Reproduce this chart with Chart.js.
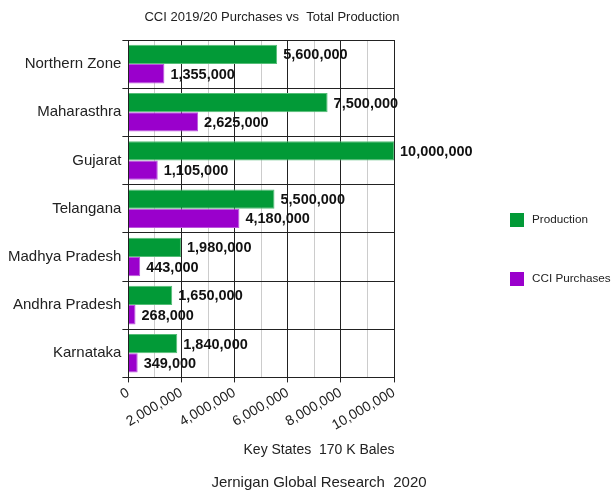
<!DOCTYPE html>
<html>
<head>
<meta charset="utf-8">
<script src="https://cdn.jsdelivr.net/npm/chart.js@4.4.1/dist/chart.umd.min.js"></script>
<style>
  html, body { margin: 0; padding: 0; background: #fff; }
  #wrap { width: 613px; height: 490px; position: relative; }
</style>
</head>
<body>
<div id="wrap"><canvas id="c"></canvas></div>
<script>
// Cotton: CCI purchases against total production by state (bales)
const states = ['Northern Zone', 'Maharasthra', 'Gujarat', 'Telangana', 'Madhya Pradesh', 'Andhra Pradesh', 'Karnataka'];
const production = [5600000, 7500000, 10000000, 5500000, 1980000, 1650000, 1840000];
const cciPurchases = [1355000, 2625000, 1105000, 4180000, 443000, 268000, 349000];
const seriesNames = ['Production', 'CCI Purchases'];
const axisMax = 10000000;
const axisStep = 1000000;
const labelStep = 2000000;
const chartTitle = 'CCI 2019/20 Purchases vs  Total Production';
const axisCaption = 'Key States  170 K Bales';
const sourceNote = 'Jernigan Global Research  2020';

const FONT = '"Liberation Sans", Arial, sans-serif';
const GREEN = '#029a37';
const PURPLE = '#9a00cc';
const INK = '#222';

// value printed just past the end of each bar
const valueLabels = {
  id: 'valueLabels',
  afterDatasetsDraw(chart) {
    const ctx = chart.ctx;
    ctx.save();
    ctx.font = 'bold 14.5px ' + FONT;
    ctx.fillStyle = '#111';
    ctx.textAlign = 'left';
    ctx.textBaseline = 'middle';
    chart.data.datasets.forEach((ds, i) => {
      chart.getDatasetMeta(i).data.forEach((bar, j) => {
        ctx.fillText(ds.data[j].toLocaleString('en-US'), bar.x + 6, bar.y + 1);
      });
    });
    ctx.restore();
  }
};

// title, axis caption, source line and the side legend
const captions = {
  id: 'captions',
  afterDraw(chart) {
    const ctx = chart.ctx;
    const area = chart.chartArea;
    ctx.save();
    ctx.fillStyle = INK;
    ctx.textAlign = 'center';
    ctx.textBaseline = 'middle';
    ctx.font = '13px ' + FONT;
    ctx.fillText(chartTitle, 272, 17);
    ctx.font = '14px ' + FONT;
    ctx.fillText(axisCaption, 319, 450);
    ctx.font = '15px ' + FONT;
    ctx.fillText(sourceNote, 319, 483);

    // legend
    const lx = area.right + 116;
    const rows = [220, 279];
    ctx.textAlign = 'left';
    ctx.font = '11.7px ' + FONT;
    chart.data.datasets.forEach((ds, i) => {
      const cy = rows[i];
      ctx.fillStyle = ds.backgroundColor;
      ctx.fillRect(lx, cy - 7, 14, 14);
      ctx.fillStyle = INK;
      ctx.fillText(ds.label, lx + 22, cy);
    });
    ctx.restore();
  }
};

new Chart(document.getElementById('c'), {
  type: 'bar',
  data: {
    labels: states,
    datasets: [
      { label: seriesNames[0], data: production, backgroundColor: GREEN, borderColor: '#55bd77', borderWidth: 1 },
      { label: seriesNames[1], data: cciPurchases, backgroundColor: PURPLE, borderColor: '#bb55dd', borderWidth: 1 }
    ]
  },
  options: {
    indexAxis: 'y',
    responsive: true,
    maintainAspectRatio: false,
    devicePixelRatio: 1,
    animation: false,
    layout: { padding: { top: 40, left: 7, right: 219, bottom: 54 } },
    datasets: { bar: { categoryPercentage: 0.8, barPercentage: 1.0 } },
    plugins: {
      legend: { display: false },
      title: { display: false },
      tooltip: { enabled: false }
    },
    scales: {
      x: {
        min: 0,
        max: axisMax,
        border: { color: INK, width: 1 },
        grid: {
          color: c => (c.tick && c.tick.value % labelStep === 0) ? INK : '#cccccc',
          tickColor: c => (c.tick && c.tick.value % labelStep === 0) ? INK : 'rgba(0,0,0,0)',
          tickLength: 5,
          lineWidth: 1
        },
        ticks: {
          stepSize: axisStep,
          autoSkip: false,
          minRotation: 30,
          maxRotation: 30,
          padding: 2,
          color: INK,
          font: { family: FONT, size: 14 },
          callback: v => (v % labelStep === 0) ? Number(v).toLocaleString('en-US') : ''
        }
      },
      y: {
        border: { color: INK, width: 1 },
        grid: { color: INK, offset: true, tickLength: 6, lineWidth: 1 },
        ticks: {
          padding: 1,
          color: INK,
          font: { family: FONT, size: 15 }
        }
      }
    }
  },
  plugins: [valueLabels, captions]
});
</script>
</body>
</html>
